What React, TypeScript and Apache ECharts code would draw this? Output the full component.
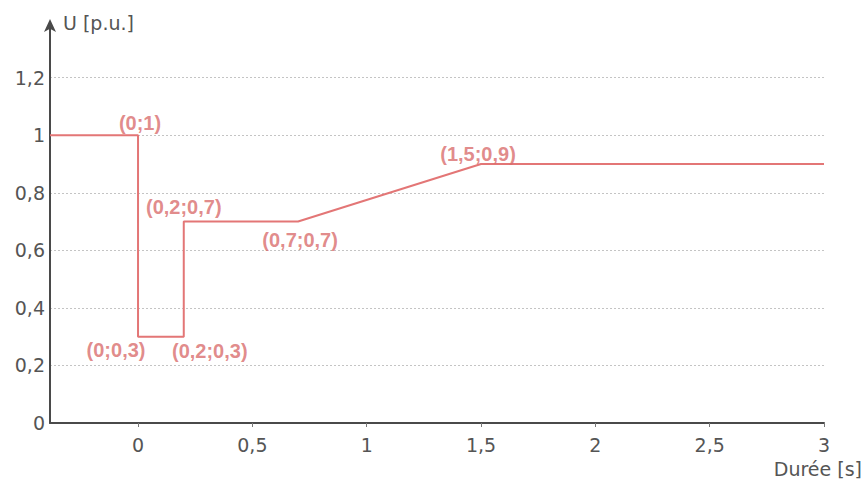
import React, { useEffect, useRef } from "react";
import * as echarts from "echarts";

const xValues = [-0.385, 0, 0, 0.2, 0.2, 0.7, 1.5, 3];
const yValues = [1, 1, 0.3, 0.3, 0.7, 0.7, 0.9, 0.9];
const xTicks = [0, 0.5, 1, 1.5, 2, 2.5, 3];
const yTicks = [0, 0.2, 0.4, 0.6, 0.8, 1, 1.2];
const pointLabels = [
  { x: 0, y: 1, text: "(0;1)" },
  { x: 0, y: 0.3, text: "(0;0,3)" },
  { x: 0.2, y: 0.3, text: "(0,2;0,3)" },
  { x: 0.2, y: 0.7, text: "(0,2;0,7)" },
  { x: 0.7, y: 0.7, text: "(0,7;0,7)" },
  { x: 1.5, y: 0.9, text: "(1,5;0,9)" },
];
const labelOffsets = [
  [2, -12],
  [-22, 13],
  [26, 14],
  [0, -15],
  [2, 18],
  [-3, -10],
];

const fmt = (v: number) => String(Math.round(v * 10) / 10).replace(".", ",");

export default function App() {
  const ref = useRef<HTMLDivElement>(null);
  useEffect(() => {
    if (!ref.current) return;
    const chart = echarts.init(ref.current, null, { renderer: "svg" });
    const axisFont = {
      fontFamily: "DejaVu Sans, sans-serif",
      fontSize: 19,
      color: "#555",
    };
    chart.setOption({
      animation: false,
      backgroundColor: "#fff",
      grid: { left: 50, right: 41, top: 23, bottom: 61 },
      xAxis: {
        type: "value",
        min: -0.385,
        max: 3,
        axisLine: { show: true, onZero: false, lineStyle: { color: "#4a4a4a", width: 2 } },
        axisTick: { show: true, length: 4, customValues: xTicks, lineStyle: { color: "#777" } },
        axisLabel: { ...axisFont, margin: 12, customValues: xTicks, formatter: fmt },
        splitLine: { show: false },
      },
      yAxis: {
        type: "value",
        min: 0,
        max: 1.39,
        name: "U [p.u.]",
        nameLocation: "end",
        nameGap: 0,
        nameTextStyle: { ...axisFont, align: "left", verticalAlign: "middle", padding: [0, 0, 0, 13] },
        axisLine: {
          show: true,
          onZero: false,
          symbol: ["none", "arrow"],
          symbolSize: [9, 13],
          symbolOffset: [0, 4],
          lineStyle: { color: "#4a4a4a", width: 2 },
        },
        axisTick: { show: false, customValues: yTicks },
        axisLabel: { ...axisFont, margin: 5, customValues: yTicks, formatter: fmt },
        splitLine: {
          show: true,
          lineStyle: { color: "#c4c4c4", type: [2, 2], width: 1 },
        },
      },
      graphic: [
        {
          type: "text",
          right: 3,
          top: 459,
          style: { text: "Durée [s]", font: "19px DejaVu Sans, sans-serif", fill: "#555" },
        },
      ],
      series: [
        {
          type: "line",
          data: xValues.map((x, i) => [x, yValues[i]]),
          showSymbol: false,
          symbol: "none",
          lineStyle: { color: "#e37676", width: 2 },
          z: 3,
        },
        {
          type: "scatter",
          symbolSize: 0,
          data: pointLabels.map((p, i) => ({
            value: [p.x, p.y],
            label: { offset: labelOffsets[i] },
          })),
          label: {
            show: true,
            position: "inside",
            formatter: (p: any) => pointLabels[p.dataIndex].text,
            fontFamily: "Liberation Sans, Arial, sans-serif",
            fontWeight: "bold",
            fontSize: 20,
            color: "#d96d6d",
          },
          z: 4,
        },
      ],
    });
    return () => chart.dispose();
  }, []);
  return <div ref={ref} style={{ width: 865, height: 484, position: "absolute", left: 0, top: 0 }} />;
}
